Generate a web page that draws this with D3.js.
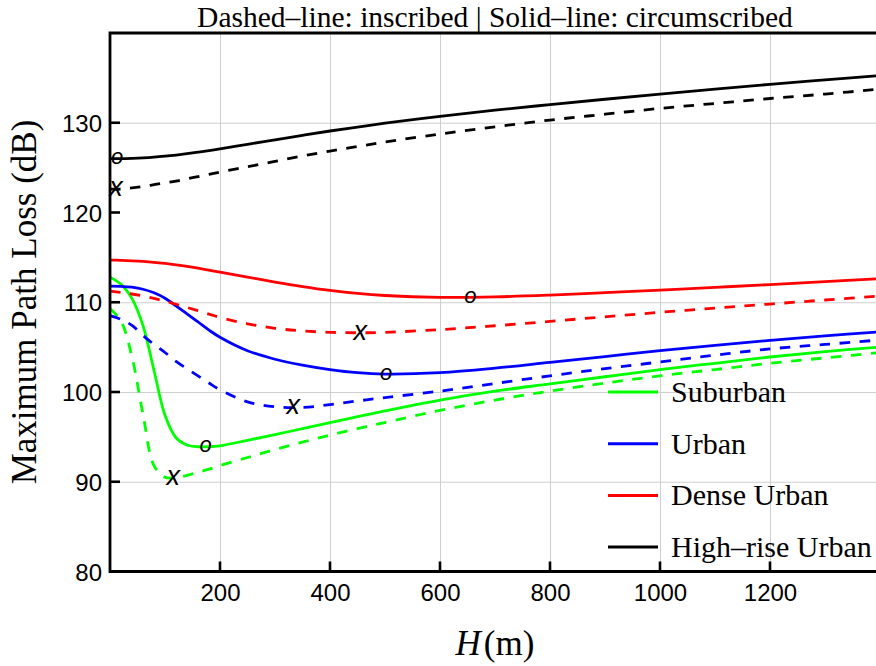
<!DOCTYPE html>
<html>
<head>
<meta charset="UTF-8">
<title>Maximum Path Loss vs H</title>
<script src="https://d3js.org/d3.v7.min.js"></script>
<style>
  body { margin: 0; background: white; }
  svg { display: block; }
</style>
</head>
<body>
<svg id="chart"></svg>
<script>

// Data (H in m, path loss in dB)

const hGrid = [0, 20, 40, 60, 80, 100, 120, 140, 160, 180, 200, 250, 300, 350, 400, 450, 500,
               600, 700, 800, 900, 1000, 1100, 1200, 1300, 1400];

const suburbanCirc = [112.8, 112.0, 110.4, 107.4, 102.4, 97.4, 94.9, 94.1, 93.9, 93.9, 94.0, 94.62, 95.25,
                      95.92, 96.6, 97.25, 97.9, 99.1, 100.1, 100.9, 101.7, 102.5, 103.2, 103.9, 104.5, 105.0];
const suburbanInsc = [109.3, 107.9, 103.9, 97.5, 91.8, 90.5, 90.45, 90.7, 91.05, 91.4, 91.8, 92.7, 93.6,
                      94.42, 95.2, 95.92, 96.6, 97.95, 99.1, 100.1, 101.0, 101.8, 102.5, 103.2, 103.8, 104.4];

const urbanCirc = [111.8, 111.78, 111.68, 111.45, 111.05, 110.45, 109.6, 108.7, 107.8, 106.9, 106.1, 104.6, 103.65,
                   103.0, 102.5, 102.15, 102.0, 102.15, 102.65, 103.3, 103.95, 104.6, 105.2, 105.75, 106.25, 106.7];
const urbanInsc = [108.5, 108.1, 107.42, 106.3, 105.3, 104.4, 103.4, 102.6, 101.8, 101.0, 100.25, 98.9, 98.35,
                   98.28, 98.6, 99.0, 99.38, 100.1, 100.95, 101.8, 102.6, 103.35, 104.1, 104.8, 105.3, 105.8];

const denseCirc = [114.7, 114.67, 114.62, 114.55, 114.45, 114.32, 114.17, 114.0, 113.8, 113.58, 113.35, 112.8, 112.25,
                   111.75, 111.32, 110.98, 110.75, 110.55, 110.6, 110.8, 111.07, 111.36, 111.66, 111.97, 112.3, 112.63];
const denseInsc = [111.25, 111.1, 110.92, 110.7, 110.43, 110.12, 109.78, 109.42, 109.05, 108.68, 108.3, 107.6, 107.1,
                   106.8, 106.65, 106.6, 106.65, 106.95, 107.38, 107.87, 108.38, 108.88, 109.35, 109.8, 110.25, 110.7];

const highriseCirc = [126.0, 126.0, 126.03, 126.08, 126.16, 126.27, 126.4, 126.55, 126.72, 126.9, 127.1, 127.6, 128.1,
                      128.6, 129.08, 129.52, 129.95, 130.72, 131.4, 132.02, 132.62, 133.2, 133.75, 134.28, 134.77, 135.25];
const highriseInsc = [122.6, 122.6, 122.75, 122.9, 123.1, 123.3, 123.5, 123.75, 124.0, 124.25, 124.5, 125.1, 125.7,
                      126.3, 126.85, 127.35, 127.85, 128.75, 129.55, 130.3, 130.95, 131.6, 132.15, 132.7, 133.2, 133.75];

// minimum points: "o" on circumscribed, "x" on inscribed
const minCirc = [[174, 93.9], [502, 102.0], [655, 110.55], [13, 126.0]];
const minInsc = [[115, 90.45], [333, 98.3], [455, 106.6], [11, 122.6]];

const categories = ["Suburban", "Urban", "Dense Urban", "High\u2013rise Urban"];
const colors = ["#00ff00", "#0000ff", "#ff0000", "#000000"];

const xTicks = [200, 400, 600, 800, 1000, 1200];
const yTicks = [80, 90, 100, 110, 120, 130];
const yGridTicks = [90, 100, 110, 130];

const titleText = "Dashed\u2013line: inscribed | Solid\u2013line: circumscribed";

// Setup

const width = 876;
const height = 666;
const margins = { top: 33, right: -4, bottom: 94.5, left: 110 };

const chartWidth = width - margins.left - margins.right;
const chartHeight = height - margins.top - margins.bottom;

let svg = d3.select("#chart")
            .attr("width", width)
            .attr("height", height);

svg.append("rect").attr("width", width).attr("height", height).attr("fill", "white");

svg.append("defs").append("clipPath").attr("id", "plotclip")
   .append("rect").attr("width", chartWidth).attr("height", chartHeight);

let chartArea = svg.append("g").attr("transform", `translate(${margins.left}, ${margins.top})`);

// Scales

const xScale = d3.scaleLinear().domain([0, 1400]).range([0, chartWidth]);
const yScale = d3.scaleLinear().domain([80, 140]).range([chartHeight, 0]);

// Grid lines

let bottomGridlines = d3.axisBottom(xScale).tickValues(xTicks).tickFormat("").tickSize(-chartHeight);
chartArea.append("g")
    .attr("class", "x gridlines")
    .attr("transform", `translate(0, ${chartHeight})`)
    .call(bottomGridlines)
    .call(g => g.select(".domain").remove())
    .selectAll("line").attr("stroke", "#cfcfcf").attr("stroke-width", 1);

let leftGridlines = d3.axisLeft(yScale).tickValues(yGridTicks).tickFormat("").tickSize(-chartWidth);
chartArea.append("g")
    .attr("class", "y gridlines")
    .call(leftGridlines)
    .call(g => g.select(".domain").remove())
    .selectAll("line").attr("stroke", "#cfcfcf").attr("stroke-width", 1);

// Curves

const series = categories.map((name, i) => ({
    name: name,
    color: colors[i],
    circ: [suburbanCirc, urbanCirc, denseCirc, highriseCirc][i],
    insc: [suburbanInsc, urbanInsc, denseInsc, highriseInsc][i]
}));

const line = d3.line()
    .x(d => xScale(d[0]))
    .y(d => yScale(d[1]))
    .curve(d3.curveCatmullRom.alpha(0.5));

let curves = chartArea.append("g").attr("clip-path", "url(#plotclip)");

series.forEach(s => {
    curves.append("path")
        .datum(hGrid.map((h, j) => [h, s.insc[j]]))
        .attr("d", line)
        .attr("fill", "none")
        .attr("stroke", s.color)
        .attr("stroke-width", 2.8)
        .attr("stroke-dasharray", "10.5,9.5");
    curves.append("path")
        .datum(hGrid.map((h, j) => [h, s.circ[j]]))
        .attr("d", line)
        .attr("fill", "none")
        .attr("stroke", s.color)
        .attr("stroke-width", 2.8);
});

// Minimum markers

const markerFont = "'Liberation Sans', Arial, sans-serif";
chartArea.selectAll(".mark-o").data(minCirc).join("text")
    .attr("class", "mark-o")
    .attr("x", d => xScale(d[0]))
    .attr("y", d => yScale(d[1]) + 5.5)
    .attr("text-anchor", "middle")
    .style("font-family", markerFont)
    .style("font-style", "italic")
    .style("font-size", "22px")
    .text("o");

chartArea.selectAll(".mark-x").data(minInsc).join("text")
    .attr("class", "mark-x")
    .attr("x", d => xScale(d[0]))
    .attr("y", d => yScale(d[1]) + 7)
    .attr("text-anchor", "middle")
    .style("font-family", markerFont)
    .style("font-style", "italic")
    .style("font-size", "27px")
    .text("x");

// Legend

const serif = "'Liberation Serif', 'Times New Roman', serif";
let legend = svg.append("g").attr("transform", "translate(608, 392)");
categories.forEach((name, i) => {
    let row = legend.append("g").attr("transform", `translate(0, ${i * 51.7})`);
    row.append("line")
        .attr("x1", 0).attr("x2", 50)
        .attr("stroke", colors[i]).attr("stroke-width", 3);
    row.append("text")
        .attr("x", 63).attr("y", 10)
        .style("font-family", serif)
        .style("font-size", "30px")
        .text(name);
});

// Axes

const sans = "'Liberation Sans', Arial, sans-serif";

let leftAxis = d3.axisLeft(yScale).tickValues(yTicks).tickSize(0).tickPadding(8);
let yAxisG = chartArea.append("g").attr("class", "y axis").call(leftAxis);
yAxisG.select(".domain").remove();
yAxisG.selectAll("text")
    .style("font-family", sans).style("font-size", "24px").attr("fill", "black").attr("dy", "0.36em");

let bottomAxis = d3.axisBottom(xScale).tickValues(xTicks).tickFormat(d3.format("d")).tickSize(0).tickPadding(12);
let xAxisG = chartArea.append("g").attr("class", "x axis")
    .attr("transform", `translate(0, ${chartHeight})`).call(bottomAxis);
xAxisG.select(".domain").remove();
xAxisG.selectAll("text")
    .style("font-family", sans).style("font-size", "24px").attr("fill", "black");

// inward tick marks
chartArea.selectAll(".ytick").data(yTicks).join("line")
    .attr("class", "ytick")
    .attr("x1", 0).attr("x2", 10)
    .attr("y1", d => yScale(d)).attr("y2", d => yScale(d))
    .attr("stroke", "black").attr("stroke-width", 2.6);

chartArea.selectAll(".xtick").data(xTicks).join("line")
    .attr("class", "xtick")
    .attr("x1", d => xScale(d)).attr("x2", d => xScale(d))
    .attr("y1", chartHeight).attr("y2", chartHeight - 10)
    .attr("stroke", "black").attr("stroke-width", 2.6);

// frame: left, bottom, top
chartArea.append("path")
    .attr("d", `M${chartWidth},0 H0 V${chartHeight} H${chartWidth}`)
    .attr("fill", "none")
    .attr("stroke", "black")
    .attr("stroke-width", 2.8);

// Titles

svg.append("text")
    .attr("x", 495).attr("y", 27)
    .attr("text-anchor", "middle")
    .style("font-family", serif)
    .style("font-size", "29.5px")
    .text(titleText);

svg.append("text")
    .attr("transform", "translate(36, 302) rotate(-90)")
    .attr("text-anchor", "middle")
    .style("font-family", serif)
    .style("font-size", "35px")
    .text("Maximum Path Loss (dB)");

let xLabel = svg.append("text")
    .attr("x", 495).attr("y", 655)
    .attr("text-anchor", "middle")
    .style("font-family", serif)
    .style("font-size", "35px");
xLabel.append("tspan").style("font-style", "italic").text("H");
xLabel.append("tspan").attr("dx", 3).text("(m)");

</script>
</body>
</html>
